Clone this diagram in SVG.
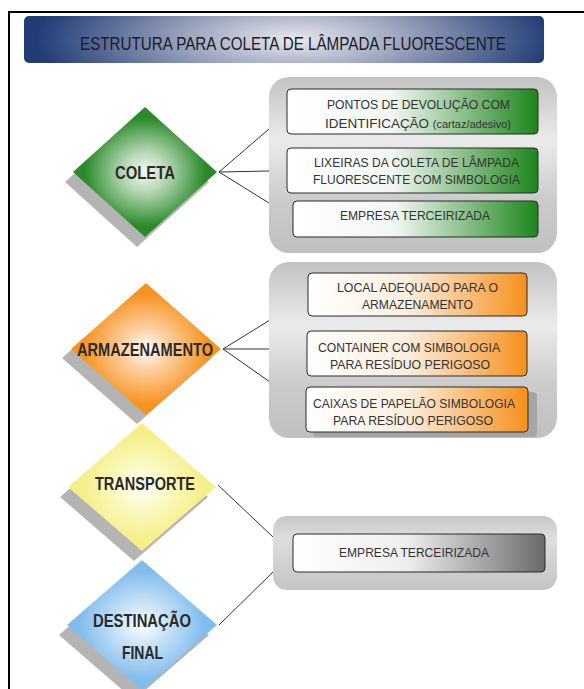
<svg xmlns="http://www.w3.org/2000/svg" width="584" height="689" viewBox="0 0 584 689">
<defs>
<radialGradient id="gTitle" cx="0.52" cy="0.5" r="0.5" fx="0.52" fy="0.5" gradientTransform="translate(0.52 0.5) scale(1 3.2) translate(-0.52 -0.5)">
<stop offset="0" stop-color="#e8e9ee"/><stop offset="0.4" stop-color="#a0a8c0"/><stop offset="1" stop-color="#213c76"/>
</radialGradient>
<linearGradient id="gPanel" x1="0" y1="0" x2="0" y2="1">
<stop offset="0" stop-color="#c2c2c2"/><stop offset="0.36" stop-color="#ebebeb"/><stop offset="0.7" stop-color="#cbcbcb"/><stop offset="1" stop-color="#c0c0c0"/>
</linearGradient>
<linearGradient id="gPanel3" x1="0" y1="0" x2="0" y2="1">
<stop offset="0" stop-color="#c6c6c6"/><stop offset="0.3" stop-color="#dedede"/><stop offset="1" stop-color="#c4c4c4"/>
</linearGradient>
<linearGradient id="gGreen" x1="0" y1="0" x2="1" y2="0">
<stop offset="0" stop-color="#ffffff"/><stop offset="0.42" stop-color="#f2f6f2"/><stop offset="1" stop-color="#1c861c"/>
</linearGradient>
<linearGradient id="gOrange" x1="0" y1="0" x2="1" y2="0">
<stop offset="0" stop-color="#ffffff"/><stop offset="0.45" stop-color="#fcefe0"/><stop offset="1" stop-color="#f7901c"/>
</linearGradient>
<linearGradient id="gGray" x1="0" y1="0" x2="1" y2="0">
<stop offset="0" stop-color="#ffffff"/><stop offset="0.45" stop-color="#eeeeee"/><stop offset="1" stop-color="#6a6a6a"/>
</linearGradient>
<radialGradient id="dGreen" cx="0.5" cy="0.5" r="0.42">
<stop offset="0" stop-color="#f4f8f4"/><stop offset="0.35" stop-color="#b9d9b9"/><stop offset="1" stop-color="#2a8a2a"/>
</radialGradient>
<radialGradient id="dOrange" cx="0.5" cy="0.5" r="0.42">
<stop offset="0" stop-color="#ffffff"/><stop offset="0.35" stop-color="#fcd2a6"/><stop offset="1" stop-color="#f7931f"/>
</radialGradient>
<radialGradient id="dYellow" cx="0.5" cy="0.5" r="0.42">
<stop offset="0" stop-color="#ffffff"/><stop offset="0.4" stop-color="#fbf9c4"/><stop offset="1" stop-color="#f4ef86"/>
</radialGradient>
<radialGradient id="dBlue" cx="0.5" cy="0.5" r="0.42">
<stop offset="0" stop-color="#ffffff"/><stop offset="0.4" stop-color="#c8e2f8"/><stop offset="1" stop-color="#80bcec"/>
</radialGradient>
</defs>
<style>
.frame{stroke:#000;stroke-width:2;fill:none}
.panel{fill:url(#gPanel)}
.box{stroke:#2a2a2a;stroke-width:1}
.shadow{fill:#b4b4b4}
.bt{font-family:"Liberation Sans",Arial,sans-serif;font-size:13.5px;fill:#333}
.dt{font-family:"Liberation Sans",Arial,sans-serif;font-size:17.5px;font-weight:bold;fill:#2a2a2a}
.conn line{stroke:#333;stroke-width:1}
</style>
<rect width="584" height="689" fill="#fff"/>
<path class="frame" d="M9 689 V12 H584"/>

<g id="title">
<rect x="24" y="16" width="520" height="47" rx="5" fill="url(#gTitle)"/>
<text x="80" y="49.5" font-family="'Liberation Sans',Arial,sans-serif" font-size="17.5" fill="#1b1b28" textLength="426" lengthAdjust="spacingAndGlyphs">ESTRUTURA PARA COLETA DE LÂMPADA FLUORESCENTE</text>
</g>

<g class="conn" id="connectors">
<line x1="219" y1="172" x2="269" y2="129"/>
<line x1="219" y1="172" x2="269" y2="171"/>
<line x1="219" y1="172" x2="269" y2="203"/>
<line x1="223" y1="349" x2="270" y2="320"/>
<line x1="223" y1="349" x2="270" y2="349"/>
<line x1="223" y1="349" x2="270" y2="382"/>
<line x1="218" y1="485" x2="273" y2="537"/>
<line x1="219" y1="625" x2="273" y2="572"/>
</g>

<g id="panel-coleta">
<rect class="panel" x="269" y="77" width="288" height="176" rx="20"/>
<rect class="box" x="287" y="89" width="251" height="45" rx="4" fill="url(#gGreen)"/>
<text class="bt" x="327" y="109" textLength="183" lengthAdjust="spacingAndGlyphs">PONTOS DE DEVOLUÇÃO COM</text>
<text class="bt" x="325" y="128" textLength="186" lengthAdjust="spacingAndGlyphs">IDENTIFICAÇÃO <tspan font-size="11">(cartaz/adesivo)</tspan></text>
<rect class="box" x="287" y="148" width="251" height="45" rx="4" fill="url(#gGreen)"/>
<text class="bt" x="314" y="167" textLength="205" lengthAdjust="spacingAndGlyphs">LIXEIRAS DA COLETA DE LÂMPADA</text>
<text class="bt" x="313" y="184" textLength="207" lengthAdjust="spacingAndGlyphs">FLUORESCENTE COM SIMBOLOGIA</text>
<rect class="box" x="293" y="201" width="245" height="36" rx="4" fill="url(#gGreen)"/>
<text class="bt" x="340" y="220" textLength="150" lengthAdjust="spacingAndGlyphs">EMPRESA TERCEIRIZADA</text>
</g>

<g id="panel-armazenamento">
<rect class="panel" x="269" y="262" width="288" height="176" rx="20"/>
<rect class="box" x="308" y="273" width="219" height="43" rx="4" fill="url(#gOrange)"/>
<text class="bt" x="337" y="292" textLength="161" lengthAdjust="spacingAndGlyphs">LOCAL ADEQUADO PARA O</text>
<text class="bt" x="362" y="309" textLength="111" lengthAdjust="spacingAndGlyphs">ARMAZENAMENTO</text>
<rect class="box" x="307" y="331" width="220" height="45" rx="4" fill="url(#gOrange)"/>
<text class="bt" x="318" y="352" textLength="182" lengthAdjust="spacingAndGlyphs">CONTAINER COM SIMBOLOGIA</text>
<text class="bt" x="330" y="369" textLength="160" lengthAdjust="spacingAndGlyphs">PARA RESÍDUO PERIGOSO</text>
<rect x="313" y="392" width="224" height="45" rx="4" fill="#a6a6a6"/>
<rect class="box" x="306" y="387" width="222" height="45" rx="4" fill="url(#gOrange)"/>
<text class="bt" x="313" y="408" textLength="202" lengthAdjust="spacingAndGlyphs">CAIXAS DE PAPELÃO SIMBOLOGIA</text>
<text class="bt" x="333" y="425" textLength="160" lengthAdjust="spacingAndGlyphs">PARA RESÍDUO PERIGOSO</text>
</g>

<g id="panel-transporte">
<rect x="273" y="516" width="284" height="74" rx="14" fill="url(#gPanel3)"/>
<rect class="box" x="293" y="534" width="252" height="38" rx="4" fill="url(#gGray)"/>
<text class="bt" x="339" y="557" textLength="150" lengthAdjust="spacingAndGlyphs">EMPRESA TERCEIRIZADA</text>
</g>

<g id="node-coleta">
<polygon class="shadow" points="137,117 209,182 137,247 65,182"/>
<polygon points="145,107 217,172 145,237 73,172" fill="url(#dGreen)"/>
<text class="dt" x="115" y="178.5" textLength="60" lengthAdjust="spacingAndGlyphs">COLETA</text>
</g>

<g id="node-armazenamento">
<polygon class="shadow" points="137,292 212,358 137,424 62,358"/>
<polygon points="146,283 221,349 146,415 71,349" fill="url(#dOrange)"/>
<text class="dt" x="77" y="355.5" textLength="136" lengthAdjust="spacingAndGlyphs">ARMAZENAMENTO</text>
</g>

<g id="node-transporte">
<polygon class="shadow" points="134,433 208,497 134,561 60,497"/>
<polygon points="142,423 216,487 142,551 68,487" fill="url(#dYellow)"/>
<text class="dt" x="95" y="489.5" textLength="100" lengthAdjust="spacingAndGlyphs">TRANSPORTE</text>
</g>

<g id="node-destinacao">
<polygon class="shadow" points="134,570 209,635 134,700 59,635"/>
<polygon points="142,560 217,625 142,690 67,625" fill="url(#dBlue)"/>
<text class="dt" x="93" y="626.5" textLength="98" lengthAdjust="spacingAndGlyphs">DESTINAÇÃO</text>
<text class="dt" x="122" y="658.5" textLength="41" lengthAdjust="spacingAndGlyphs">FINAL</text>
</g>
</svg>
